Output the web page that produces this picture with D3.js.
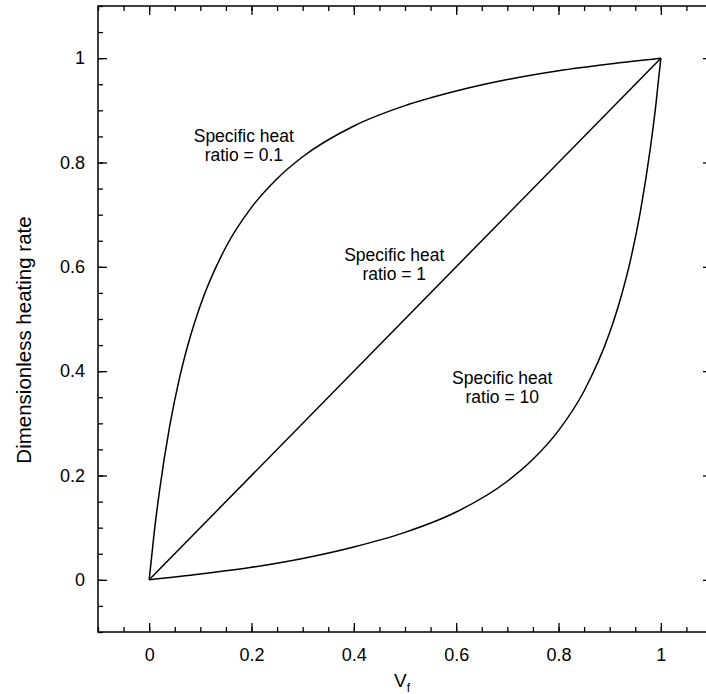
<!DOCTYPE html>
<html>
  <head>
    <meta charset="utf-8" />
    <script src="https://cdn.jsdelivr.net/npm/d3@7"></script>
    <style>
      body { margin: 0; background: #fff; }
      text { font-family: "Liberation Sans", Arial, sans-serif; fill: #000; }
      .axis text { font-size: 18px; }
      .axis path { display: none; }
      .axis line { stroke: #000; stroke-width: 1.3; }
    </style>
  </head>
  <body>
    <svg id="chart" width="706" height="694"></svg>
    <script>
      // data
      var xLow = [0, 0.01, 0.02, 0.04, 0.06, 0.08, 0.1, 0.15, 0.2, 0.25, 0.3, 0.4, 0.5, 0.6, 0.7, 0.8, 0.9, 1];
      var yRatio01 = [0, 0.092, 0.169, 0.294, 0.39, 0.465, 0.526, 0.638, 0.714, 0.769, 0.811, 0.87, 0.909, 0.937, 0.959, 0.976, 0.989, 1];
      var xHigh = [0, 0.1, 0.2, 0.3, 0.4, 0.5, 0.6, 0.7, 0.75, 0.8, 0.85, 0.9, 0.92, 0.94, 0.96, 0.98, 0.99, 1];
      var yRatio10 = [0, 0.011, 0.024, 0.041, 0.063, 0.091, 0.13, 0.189, 0.231, 0.286, 0.362, 0.474, 0.535, 0.61, 0.706, 0.831, 0.908, 1];
      var xLinear = [0, 1];
      var yRatio1 = [0, 1];

      var xTickValues = [0, 0.2, 0.4, 0.6, 0.8, 1];
      var yTickValues = [0, 0.2, 0.4, 0.6, 0.8, 1];
      var minorValues = [-0.1, -0.05, 0, 0.05, 0.1, 0.15, 0.2, 0.25, 0.3, 0.35, 0.4, 0.45, 0.5, 0.55,
                         0.6, 0.65, 0.7, 0.75, 0.8, 0.85, 0.9, 0.95, 1, 1.05, 1.1];

      var labels = [
        { x: 0.185, y: 0.84, lines: ['Specific heat', 'ratio = 0.1'] },
        { x: 0.479, y: 0.612, lines: ['Specific heat', 'ratio = 1'] },
        { x: 0.69, y: 0.376, lines: ['Specific heat', 'ratio = 10'] }
      ];

      var svg = d3.select('#chart');

      var sx = d3.scaleLinear().domain([-0.1, 1.1]).range([98, 712]);
      var sy = d3.scaleLinear().domain([-0.1, 1.1]).range([632, 6]);

      // ticks, all pointing inward
      function fmt(d) { return d === 0 || d === 1 ? String(d) : d.toFixed(1); }

      svg.append('g').attr('class', 'axis')
        .attr('transform', 'translate(0,632)')
        .call(d3.axisBottom(sx).tickValues(xTickValues).tickSize(-9).tickPadding(16).tickFormat(fmt));
      svg.append('g').attr('class', 'axis')
        .attr('transform', 'translate(0,632)')
        .call(d3.axisBottom(sx).tickValues(minorValues).tickSize(-5).tickFormat(''));
      svg.append('g').attr('class', 'axis')
        .attr('transform', 'translate(0,6)')
        .call(d3.axisTop(sx).tickValues(xTickValues).tickSize(-9).tickFormat(''));
      svg.append('g').attr('class', 'axis')
        .attr('transform', 'translate(0,6)')
        .call(d3.axisTop(sx).tickValues(minorValues).tickSize(-5).tickFormat(''));

      svg.append('g').attr('class', 'axis')
        .attr('transform', 'translate(98,0)')
        .call(d3.axisLeft(sy).tickValues(yTickValues).tickSize(-9).tickPadding(13).tickFormat(fmt));
      svg.append('g').attr('class', 'axis')
        .attr('transform', 'translate(98,0)')
        .call(d3.axisLeft(sy).tickValues(minorValues).tickSize(-5).tickFormat(''));
      svg.append('g').attr('class', 'axis')
        .attr('transform', 'translate(712,0)')
        .call(d3.axisRight(sy).tickValues(yTickValues).tickSize(-9).tickFormat(''));
      svg.append('g').attr('class', 'axis')
        .attr('transform', 'translate(712,0)')
        .call(d3.axisRight(sy).tickValues(minorValues).tickSize(-5).tickFormat(''));

      // frame
      svg.append('rect')
        .attr('x', sx(-0.1)).attr('y', sy(1.1))
        .attr('width', sx(1.1) - sx(-0.1)).attr('height', sy(-0.1) - sy(1.1))
        .attr('fill', 'none').attr('stroke', '#000').attr('stroke-width', 1.5);

      // curves
      var line = d3.line()
        .x(function(d) { return sx(d[0]); })
        .y(function(d) { return sy(d[1]); })
        .curve(d3.curveMonotoneX);

      var series = [d3.zip(xLow, yRatio01), d3.zip(xLinear, yRatio1), d3.zip(xHigh, yRatio10)];
      series.forEach(function(s) {
        svg.append('path')
          .attr('d', line(s))
          .attr('fill', 'none')
          .attr('stroke', '#000')
          .attr('stroke-width', 1.5);
      });

      // curve labels, one text per line
      labels.forEach(function(l) {
        l.lines.forEach(function(s, i) {
          svg.append('text')
            .attr('x', sx(l.x)).attr('y', sy(l.y) + i * 19)
            .attr('text-anchor', 'middle')
            .style('font-size', '17.5px')
            .text(s);
        });
      });

      // axis titles
      svg.append('text')
        .attr('transform', 'translate(31,340) rotate(-90)')
        .attr('text-anchor', 'middle')
        .style('font-size', '20.5px')
        .text('Dimensionless heating rate');

      var xt = svg.append('text')
        .attr('x', 402).attr('y', 687)
        .attr('text-anchor', 'middle')
        .style('font-size', '19px');
      xt.append('tspan').text('V');
      xt.append('tspan').attr('dy', 5).style('font-size', '12px').text('f');
    </script>
  </body>
</html>
